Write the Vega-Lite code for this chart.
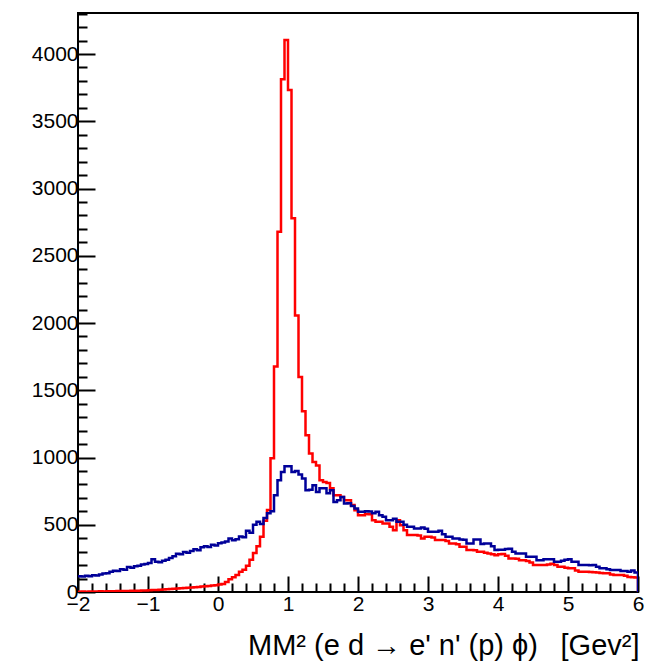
{
  "$schema": "https://vega.github.io/schema/vega-lite/v6.json",
  "width": 560,
  "height": 579,
  "autosize": {"type": "none"},
  "padding": {"left": 78, "top": 13, "right": 21, "bottom": 74},
  "background": "white",
  "config": {
    "view": {"stroke": "black", "strokeWidth": 2},
    "font": "Liberation Sans"
  },
  "datasets": {
    "red": [
      {"x": -2.00, "y": 2}, {"x": -1.95, "y": 3}, {"x": -1.90, "y": 2}, {"x": -1.85, "y": 4}, {"x": -1.80, "y": 3},
      {"x": -1.75, "y": 4}, {"x": -1.70, "y": 5}, {"x": -1.65, "y": 4}, {"x": -1.60, "y": 5}, {"x": -1.55, "y": 6},
      {"x": -1.50, "y": 6}, {"x": -1.45, "y": 7}, {"x": -1.40, "y": 7}, {"x": -1.35, "y": 8}, {"x": -1.30, "y": 8},
      {"x": -1.25, "y": 9}, {"x": -1.20, "y": 10}, {"x": -1.15, "y": 10}, {"x": -1.10, "y": 11}, {"x": -1.05, "y": 12},
      {"x": -1.00, "y": 13}, {"x": -0.95, "y": 14}, {"x": -0.90, "y": 15}, {"x": -0.85, "y": 17}, {"x": -0.80, "y": 18},
      {"x": -0.75, "y": 20}, {"x": -0.70, "y": 22}, {"x": -0.65, "y": 24}, {"x": -0.60, "y": 26}, {"x": -0.55, "y": 28},
      {"x": -0.50, "y": 30}, {"x": -0.45, "y": 32}, {"x": -0.40, "y": 34}, {"x": -0.35, "y": 36}, {"x": -0.30, "y": 38},
      {"x": -0.25, "y": 40}, {"x": -0.20, "y": 42}, {"x": -0.15, "y": 44}, {"x": -0.10, "y": 48}, {"x": -0.05, "y": 50},
      {"x": 0.00, "y": 55}, {"x": 0.05, "y": 60}, {"x": 0.10, "y": 75}, {"x": 0.15, "y": 95}, {"x": 0.20, "y": 110},
      {"x": 0.25, "y": 126}, {"x": 0.30, "y": 150}, {"x": 0.35, "y": 165}, {"x": 0.40, "y": 195}, {"x": 0.45, "y": 240},
      {"x": 0.50, "y": 290}, {"x": 0.55, "y": 340}, {"x": 0.60, "y": 410}, {"x": 0.65, "y": 530}, {"x": 0.70, "y": 610},
      {"x": 0.75, "y": 995}, {"x": 0.80, "y": 1677}, {"x": 0.85, "y": 2679}, {"x": 0.90, "y": 3812}, {"x": 0.95, "y": 4104},
      {"x": 1.00, "y": 3733}, {"x": 1.05, "y": 2778}, {"x": 1.10, "y": 2056}, {"x": 1.15, "y": 1598}, {"x": 1.20, "y": 1343},
      {"x": 1.25, "y": 1165}, {"x": 1.30, "y": 1029}, {"x": 1.35, "y": 967}, {"x": 1.40, "y": 940}, {"x": 1.45, "y": 831},
      {"x": 1.50, "y": 818}, {"x": 1.55, "y": 810}, {"x": 1.60, "y": 772}, {"x": 1.65, "y": 720}, {"x": 1.70, "y": 720},
      {"x": 1.75, "y": 707}, {"x": 1.80, "y": 683}, {"x": 1.85, "y": 683}, {"x": 1.90, "y": 646}, {"x": 1.95, "y": 608},
      {"x": 2.00, "y": 571}, {"x": 2.05, "y": 571}, {"x": 2.10, "y": 580}, {"x": 2.15, "y": 578}, {"x": 2.20, "y": 534},
      {"x": 2.25, "y": 522}, {"x": 2.30, "y": 522}, {"x": 2.35, "y": 510}, {"x": 2.40, "y": 510}, {"x": 2.45, "y": 485},
      {"x": 2.50, "y": 460}, {"x": 2.55, "y": 534}, {"x": 2.60, "y": 497}, {"x": 2.65, "y": 460}, {"x": 2.70, "y": 423},
      {"x": 2.75, "y": 423}, {"x": 2.80, "y": 423}, {"x": 2.85, "y": 420}, {"x": 2.90, "y": 398}, {"x": 2.95, "y": 411},
      {"x": 3.00, "y": 411}, {"x": 3.05, "y": 405}, {"x": 3.10, "y": 386}, {"x": 3.15, "y": 386}, {"x": 3.20, "y": 386},
      {"x": 3.25, "y": 380}, {"x": 3.30, "y": 361}, {"x": 3.35, "y": 361}, {"x": 3.40, "y": 355}, {"x": 3.45, "y": 336},
      {"x": 3.50, "y": 336}, {"x": 3.55, "y": 312}, {"x": 3.60, "y": 312}, {"x": 3.65, "y": 310}, {"x": 3.70, "y": 299},
      {"x": 3.75, "y": 299}, {"x": 3.80, "y": 292}, {"x": 3.85, "y": 287}, {"x": 3.90, "y": 280}, {"x": 3.95, "y": 274},
      {"x": 4.00, "y": 280}, {"x": 4.05, "y": 283}, {"x": 4.10, "y": 270}, {"x": 4.15, "y": 250}, {"x": 4.20, "y": 250},
      {"x": 4.25, "y": 248}, {"x": 4.30, "y": 237}, {"x": 4.35, "y": 237}, {"x": 4.40, "y": 230}, {"x": 4.45, "y": 220},
      {"x": 4.50, "y": 200}, {"x": 4.55, "y": 200}, {"x": 4.60, "y": 200}, {"x": 4.65, "y": 200}, {"x": 4.70, "y": 205},
      {"x": 4.75, "y": 210}, {"x": 4.80, "y": 200}, {"x": 4.85, "y": 188}, {"x": 4.90, "y": 188}, {"x": 4.95, "y": 180},
      {"x": 5.00, "y": 176}, {"x": 5.05, "y": 176}, {"x": 5.10, "y": 160}, {"x": 5.15, "y": 151}, {"x": 5.20, "y": 151},
      {"x": 5.25, "y": 151}, {"x": 5.30, "y": 148}, {"x": 5.35, "y": 147}, {"x": 5.40, "y": 145}, {"x": 5.45, "y": 142},
      {"x": 5.50, "y": 139}, {"x": 5.55, "y": 139}, {"x": 5.60, "y": 130}, {"x": 5.65, "y": 126}, {"x": 5.70, "y": 126},
      {"x": 5.75, "y": 126}, {"x": 5.80, "y": 120}, {"x": 5.85, "y": 112}, {"x": 5.90, "y": 109}, {"x": 5.95, "y": 108},
      {"x": 6.00, "y": 0}
    ],
    "blue": [
      {"x": -2.00, "y": 118}, {"x": -1.95, "y": 116}, {"x": -1.90, "y": 120}, {"x": -1.85, "y": 118}, {"x": -1.80, "y": 124},
      {"x": -1.75, "y": 122}, {"x": -1.70, "y": 130}, {"x": -1.65, "y": 137}, {"x": -1.60, "y": 140}, {"x": -1.55, "y": 150},
      {"x": -1.50, "y": 158}, {"x": -1.45, "y": 156}, {"x": -1.40, "y": 170}, {"x": -1.35, "y": 165}, {"x": -1.30, "y": 185},
      {"x": -1.25, "y": 180}, {"x": -1.20, "y": 192}, {"x": -1.15, "y": 195}, {"x": -1.10, "y": 205}, {"x": -1.05, "y": 208},
      {"x": -1.00, "y": 215}, {"x": -0.95, "y": 243}, {"x": -0.90, "y": 225}, {"x": -0.85, "y": 222}, {"x": -0.80, "y": 232},
      {"x": -0.75, "y": 240}, {"x": -0.70, "y": 252}, {"x": -0.65, "y": 265}, {"x": -0.60, "y": 285}, {"x": -0.55, "y": 280},
      {"x": -0.50, "y": 298}, {"x": -0.45, "y": 292}, {"x": -0.40, "y": 305}, {"x": -0.35, "y": 318}, {"x": -0.30, "y": 310},
      {"x": -0.25, "y": 332}, {"x": -0.20, "y": 340}, {"x": -0.15, "y": 335}, {"x": -0.10, "y": 352}, {"x": -0.05, "y": 345},
      {"x": 0.00, "y": 362}, {"x": 0.05, "y": 368}, {"x": 0.10, "y": 375}, {"x": 0.15, "y": 398}, {"x": 0.20, "y": 385},
      {"x": 0.25, "y": 392}, {"x": 0.30, "y": 412}, {"x": 0.35, "y": 408}, {"x": 0.40, "y": 455}, {"x": 0.45, "y": 440},
      {"x": 0.50, "y": 500}, {"x": 0.55, "y": 522}, {"x": 0.60, "y": 505}, {"x": 0.65, "y": 550}, {"x": 0.70, "y": 586},
      {"x": 0.75, "y": 600}, {"x": 0.80, "y": 720}, {"x": 0.85, "y": 831}, {"x": 0.90, "y": 893}, {"x": 0.95, "y": 935},
      {"x": 1.00, "y": 935}, {"x": 1.05, "y": 893}, {"x": 1.10, "y": 900}, {"x": 1.15, "y": 873}, {"x": 1.20, "y": 844},
      {"x": 1.25, "y": 757}, {"x": 1.30, "y": 760}, {"x": 1.35, "y": 794}, {"x": 1.40, "y": 744}, {"x": 1.45, "y": 772},
      {"x": 1.50, "y": 772}, {"x": 1.55, "y": 734}, {"x": 1.60, "y": 757}, {"x": 1.65, "y": 670}, {"x": 1.70, "y": 683},
      {"x": 1.75, "y": 707}, {"x": 1.80, "y": 658}, {"x": 1.85, "y": 660}, {"x": 1.90, "y": 640}, {"x": 1.95, "y": 621},
      {"x": 2.00, "y": 596}, {"x": 2.05, "y": 596}, {"x": 2.10, "y": 600}, {"x": 2.15, "y": 598}, {"x": 2.20, "y": 585},
      {"x": 2.25, "y": 596}, {"x": 2.30, "y": 571}, {"x": 2.35, "y": 560}, {"x": 2.40, "y": 534}, {"x": 2.45, "y": 534},
      {"x": 2.50, "y": 545}, {"x": 2.55, "y": 522}, {"x": 2.60, "y": 522}, {"x": 2.65, "y": 500}, {"x": 2.70, "y": 485},
      {"x": 2.75, "y": 485}, {"x": 2.80, "y": 473}, {"x": 2.85, "y": 473}, {"x": 2.90, "y": 480}, {"x": 2.95, "y": 470},
      {"x": 3.00, "y": 448}, {"x": 3.05, "y": 448}, {"x": 3.10, "y": 448}, {"x": 3.15, "y": 455}, {"x": 3.20, "y": 430},
      {"x": 3.25, "y": 411}, {"x": 3.30, "y": 411}, {"x": 3.35, "y": 398}, {"x": 3.40, "y": 398}, {"x": 3.45, "y": 391},
      {"x": 3.50, "y": 388}, {"x": 3.55, "y": 361}, {"x": 3.60, "y": 361}, {"x": 3.65, "y": 391}, {"x": 3.70, "y": 391},
      {"x": 3.75, "y": 356}, {"x": 3.80, "y": 360}, {"x": 3.85, "y": 360}, {"x": 3.90, "y": 340}, {"x": 3.95, "y": 312},
      {"x": 4.00, "y": 315}, {"x": 4.05, "y": 315}, {"x": 4.10, "y": 320}, {"x": 4.15, "y": 322}, {"x": 4.20, "y": 300},
      {"x": 4.25, "y": 287}, {"x": 4.30, "y": 287}, {"x": 4.35, "y": 287}, {"x": 4.40, "y": 262}, {"x": 4.45, "y": 262},
      {"x": 4.50, "y": 262}, {"x": 4.55, "y": 237}, {"x": 4.60, "y": 237}, {"x": 4.65, "y": 243}, {"x": 4.70, "y": 243},
      {"x": 4.75, "y": 243}, {"x": 4.80, "y": 225}, {"x": 4.85, "y": 225}, {"x": 4.90, "y": 232}, {"x": 4.95, "y": 240},
      {"x": 5.00, "y": 243}, {"x": 5.05, "y": 225}, {"x": 5.10, "y": 225}, {"x": 5.15, "y": 200}, {"x": 5.20, "y": 200},
      {"x": 5.25, "y": 200}, {"x": 5.30, "y": 198}, {"x": 5.35, "y": 200}, {"x": 5.40, "y": 188}, {"x": 5.45, "y": 176},
      {"x": 5.50, "y": 176}, {"x": 5.55, "y": 170}, {"x": 5.60, "y": 163}, {"x": 5.65, "y": 163}, {"x": 5.70, "y": 163},
      {"x": 5.75, "y": 156}, {"x": 5.80, "y": 156}, {"x": 5.85, "y": 150}, {"x": 5.90, "y": 160}, {"x": 5.95, "y": 145},
      {"x": 6.00, "y": 0}
    ]
  },
  "layer": [
    {
      "data": {"name": "red"},
      "mark": {"type": "line", "interpolate": "step-after", "color": "#ff0000", "strokeWidth": 2.5, "clip": true},
      "encoding": {
        "x": {
          "field": "x", "type": "quantitative",
          "scale": {"domain": [-2, 6], "nice": false, "zero": false},
          "axis": {
            "values": [-2, -1.8, -1.6, -1.4, -1.2, -1, -0.8, -0.6, -0.4, -0.2, 0, 0.2, 0.4, 0.6, 0.8, 1, 1.2, 1.4, 1.6, 1.8, 2, 2.2, 2.4, 2.6, 2.8, 3, 3.2, 3.4, 3.6, 3.8, 4, 4.2, 4.4, 4.6, 4.8, 5, 5.2, 5.4, 5.6, 5.8, 6],
            "tickCount": 200,
            "labelExpr": "abs(datum.value - round(datum.value)) < 0.001 ? format(datum.value, 'd') : ''",
            "labelFlush": false, "labelOverlap": false, "labelBound": false,
            "domain": false, "grid": false,
            "ticks": true, "tickWidth": 2, "tickColor": "black",
            "tickSize": {"condition": {"test": "abs(datum.value - round(datum.value)) < 0.001", "value": -16}, "value": -9},
            "labelFontSize": 21, "labelColor": "black", "labelPadding": 17, "labelFont": "Liberation Sans",
            "title": "MM² (e d → e' n' (p) ϕ)\u2002 [Gev²]",
            "titleFont": "Liberation Sans", "titleFontSize": 29, "titleFontWeight": "normal", "titleColor": "black",
            "titleAlign": "right", "titleAnchor": "end", "titleBaseline": "alphabetic",
            "titleX": 561, "titleY": 62
          }
        },
        "y": {
          "field": "y", "type": "quantitative",
          "scale": {"domain": [0, 4305], "nice": false, "zero": true},
          "axis": {
            "values": [0, 100, 200, 300, 400, 500, 600, 700, 800, 900, 1000, 1100, 1200, 1300, 1400, 1500, 1600, 1700, 1800, 1900, 2000, 2100, 2200, 2300, 2400, 2500, 2600, 2700, 2800, 2900, 3000, 3100, 3200, 3300, 3400, 3500, 3600, 3700, 3800, 3900, 4000, 4100, 4200, 4300],
            "tickCount": 200,
            "labelExpr": "datum.value % 500 === 0 ? format(datum.value, 'd') : ''",
            "labelOverlap": false, "labelBound": false, "labelFlush": false,
            "domain": false, "grid": false,
            "ticks": true, "tickWidth": 2, "tickColor": "black",
            "tickSize": {"condition": {"test": "datum.value % 500 === 0", "value": -17}, "value": -9},
            "labelFontSize": 21, "labelColor": "black", "labelPadding": 17, "labelFont": "Liberation Sans",
            "title": null
          }
        }
      }
    },
    {
      "data": {"name": "blue"},
      "mark": {"type": "line", "interpolate": "step-after", "color": "#000099", "strokeWidth": 2.5, "clip": true},
      "encoding": {
        "x": {"field": "x", "type": "quantitative"},
        "y": {"field": "y", "type": "quantitative"}
      }
    }
  ]
}
